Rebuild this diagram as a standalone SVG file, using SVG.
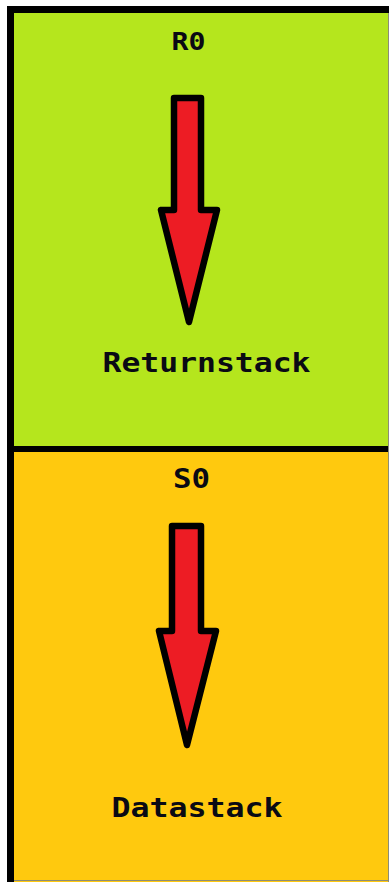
<svg xmlns="http://www.w3.org/2000/svg" width="389" height="882" viewBox="0 0 389 882">
  <style>
    .lbl { font-family: "DejaVu Sans Mono", "Liberation Mono", monospace; font-weight: bold; fill: #0a0a14; text-anchor: middle; }
    .arrow { fill: #ed1c24; stroke: #000; stroke-width: 6.5; stroke-linejoin: round; }
    .edge { stroke: #8c8c78; stroke-width: 1; fill: none; }
  </style>
  <rect x="0" y="0" width="389" height="882" fill="#ffffff"/>
  <g id="frame">
    <rect x="7" y="6" width="382" height="876" fill="#000"/>
  </g>
  <g id="returnstack">
    <rect x="14" y="13" width="375" height="433" fill="#b5e61d"/>
    <text class="lbl" x="188.5" y="50" font-size="25" textLength="34" lengthAdjust="spacingAndGlyphs">R0</text>
    <path class="arrow" d="M174,98 L201,98 L201,210 L217,210 L189,322 L161,210 L174,210 Z"/>
    <text class="lbl" x="206.5" y="372" font-size="27" textLength="208" lengthAdjust="spacingAndGlyphs">Returnstack</text>
  </g>
  <g id="datastack">
    <rect x="14" y="452" width="375" height="430" fill="#ffc90e"/>
    <text class="lbl" x="191.5" y="488" font-size="26" textLength="37" lengthAdjust="spacingAndGlyphs">S0</text>
    <path class="arrow" d="M172,526 L201,526 L201,631 L216,631 L187,745 L159,631 L172,631 Z"/>
    <text class="lbl" x="197" y="817" font-size="27" textLength="171" lengthAdjust="spacingAndGlyphs">Datastack</text>
  </g>
  <g id="connectors"></g>
  <line class="edge" x1="388.5" y1="13" x2="388.5" y2="882"/>
  <line class="edge" x1="14" y1="880.5" x2="389" y2="880.5"/>
</svg>
